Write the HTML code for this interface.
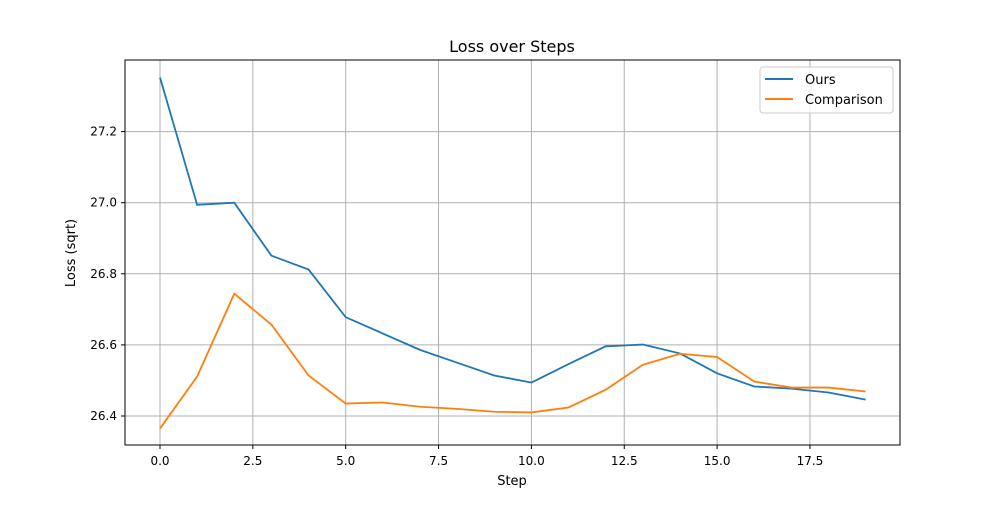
<!DOCTYPE html>
<html><head><meta charset="utf-8"><style>
body{margin:0;background:#fff;font-family:"Liberation Sans","DejaVu Sans",sans-serif}
svg text{font-family:"DejaVu Sans","Liberation Sans",sans-serif}
</style></head><body>
<svg id="chart" width="1000" height="500">
<rect width="1000" height="500" fill="#fff"/>
<g id="grid"></g>
<g id="series"></g>
<rect x="125" y="60" width="775" height="385" fill="none" stroke="#000" stroke-width="1"/>
<g id="ticks"></g>
<text x="512" y="52" text-anchor="middle" font-size="16">Loss over Steps</text>
<text x="512" y="485" text-anchor="middle" font-size="13">Step</text>
<text transform="translate(75,253) rotate(-90)" text-anchor="middle" font-size="13">Loss (sqrt)</text>
<g>
<rect x="760" y="67" width="133" height="46" rx="3" fill="#fff" fill-opacity="0.8" stroke="#ccc"/>
<line x1="765" y1="79" x2="793" y2="79" stroke="#1f77b4" stroke-width="2"/>
<text x="805" y="84" font-size="13">Ours</text>
<line x1="765" y1="99" x2="793" y2="99" stroke="#ff7f0e" stroke-width="2"/>
<text x="805" y="104" font-size="13">Comparison</text>
</g>
</svg>
<script>
const steps=[0,1,2,3,4,5,6,7,8,9,10,11,12,13,14,15,16,17,18,19];
const ours=[27.352,26.994,27.0,26.851,26.812,26.678,26.632,26.586,26.55,26.514,26.494,26.546,26.596,26.601,26.576,26.52,26.483,26.477,26.466,26.446];
const comparison=[26.365,26.511,26.744,26.657,26.514,26.435,26.438,26.426,26.42,26.412,26.41,26.424,26.474,26.544,26.575,26.566,26.497,26.48,26.48,26.469];
const xTicks=[0,2.5,5,7.5,10,12.5,15,17.5];
const yTicks=[26.4,26.6,26.8,27.0,27.2];
const NS="http://www.w3.org/2000/svg";
const X=v=>160+v*37.14;
const Y=v=>416-(v-26.4)*355.5;
function mk(tag,attrs,parent){const e=document.createElementNS(NS,tag);for(const k in attrs)e.setAttribute(k,attrs[k]);document.getElementById(parent).appendChild(e);return e;}
xTicks.forEach(t=>{
 const g=mk('line',{x1:X(t),x2:X(t),y1:60,y2:445,stroke:'#b0b0b0','stroke-width':1},'grid');
 
 
 mk('line',{x1:X(t),x2:X(t),y1:445,y2:449,stroke:'#000'},'ticks');
 const tx=mk('text',{x:X(t),y:465,'text-anchor':'middle','font-size':12},'ticks');
 tx.textContent=t.toFixed(1);
 
 
});
yTicks.forEach(t=>{
 const g=mk('line',{x1:125,x2:900,y1:Y(t),y2:Y(t),stroke:'#b0b0b0','stroke-width':1},'grid');
 
 
 mk('line',{x1:121,x2:125,y1:Y(t),y2:Y(t),stroke:'#000'},'ticks');
 const tx=mk('text',{x:117,y:Y(t)+4,'text-anchor':'end','font-size':12},'ticks');
 tx.textContent=t.toFixed(1);
 
 
});
function line(vals,color,name){
 const p=mk('polyline',{points:steps.map((s,i)=>X(s)+','+Y(vals[i])).join(' '),fill:'none',stroke:color,'stroke-width':1.8},'series');
 
 
}
line(ours,'#1f77b4','series-ours');
line(comparison,'#ff7f0e','series-comparison');
</script>
</body></html>
